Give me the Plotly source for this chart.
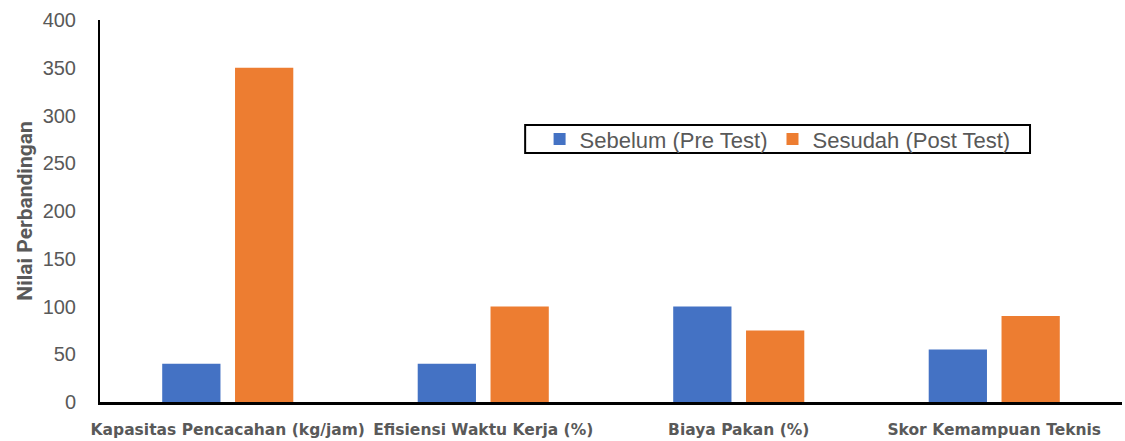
import plotly.graph_objects as go

categories = [
    "Kapasitas Pencacahan (kg/jam)",
    "Efisiensi Waktu Kerja (%)",
    "Biaya Pakan (%)",
    "Skor Kemampuan Teknis",
]
sebelum = [40, 40, 100, 55]
sesudah = [350, 100, 75, 90]
y_ticks = [0, 50, 100, 150, 200, 250, 300, 350, 400]

GREY = "#595959"

fig = go.Figure()
fig.add_trace(go.Bar(x=categories, y=sebelum, name="Sebelum (Pre Test)",
                     marker=dict(color="#4472C4", line=dict(width=0))))
fig.add_trace(go.Bar(x=categories, y=sesudah, name="Sesudah (Post Test)",
                     marker=dict(color="#ED7D31", line=dict(width=0))))

# legend frame drawn as a paper shape so it can be flatter than plotly's own border
fig.add_shape(type="rect", xref="paper", yref="paper",
              x0=0.416, x1=0.910, y0=0.652, y1=0.725,
              line=dict(color="black", width=2), fillcolor="white", layer="below")

fig.update_layout(
    width=1125, height=441,
    margin=dict(l=100, r=3, t=20, b=39, autoexpand=False),
    plot_bgcolor="white", paper_bgcolor="white",
    barmode="group", bargap=0.43, bargroupgap=0.2,
    font=dict(family="Roboto", color=GREY),
    legend=dict(
        orientation="h", x=0.663, y=0.688, xanchor="center", yanchor="middle",
        borderwidth=0, bgcolor="rgba(0,0,0,0)",
        font=dict(family="Liberation Sans", size=22, color=GREY), itemwidth=30,
    ),
    showlegend=True,
)
fig.update_xaxes(
    showline=True, linecolor="black", linewidth=3, showgrid=False, automargin=False,
    tickfont=dict(family="DejaVu Sans", size=15.5, color=GREY, weight="bold"),
    ticks="", ticklabelstandoff=11,
)
fig.update_yaxes(
    range=[0, 400], tickvals=y_ticks, showline=True, linecolor="black", linewidth=2,
    showgrid=False, zeroline=False, ticks="", automargin=False,
    tickfont=dict(family="Liberation Sans", size=20, color=GREY), ticklabelstandoff=18,
    title=dict(text="<b>Nilai Perbandingan</b>", font=dict(family="Roboto", size=21, color=GREY),
               standoff=4),
)

fig.write_html("out.html", config={"displayModeBar": False},
               post_script="document.body.style.margin='0';")
